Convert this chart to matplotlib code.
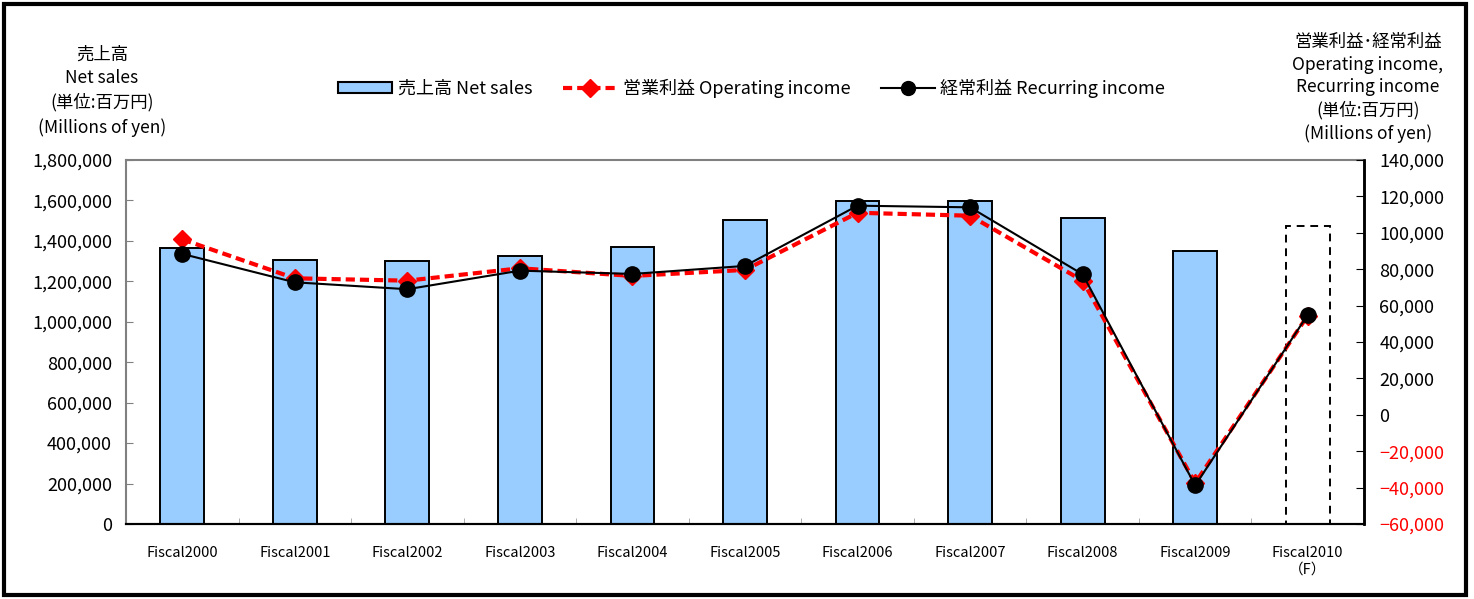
import matplotlib
matplotlib.use("Agg")
import matplotlib.pyplot as plt
from matplotlib.patches import Rectangle
from matplotlib.lines import Line2D
from matplotlib.ticker import FixedLocator, FuncFormatter

plt.rcParams['font.family'] = ['Noto Sans CJK JP', 'DejaVu Sans']

# data (millions of yen)
years = ['Fiscal2000', 'Fiscal2001', 'Fiscal2002', 'Fiscal2003', 'Fiscal2004',
         'Fiscal2005', 'Fiscal2006', 'Fiscal2007', 'Fiscal2008', 'Fiscal2009',
         'Fiscal2010\n（F）']
net_sales = [1366000, 1307000, 1302000, 1325000, 1371000, 1502000,
             1597000, 1597000, 1515000, 1352000, 1475000]
operating_income = [96400, 75000, 73700, 80500, 76300, 79600,
                    111000, 109400, 73700, -37500, 54500]
recurring_income = [88400, 72800, 69000, 79200, 77400, 81800,
                    114900, 114000, 77200, -38800, 54900]
forecast = [False] * 10 + [True]

left_ticks = list(range(0, 1800001, 200000))
right_ticks = list(range(-60000, 140001, 20000))

fig = plt.figure(figsize=(14.74, 5.99), dpi=100)
ax = fig.add_axes([126 / 1474, 75 / 599, 1238 / 1474, 364 / 599])
ax2 = ax.twinx()

x = list(range(len(years)))
for i in x:
    if forecast[i]:
        ax.bar(i, net_sales[i], width=0.39, facecolor='none', edgecolor='black',
               linestyle=(0, (4, 3)), linewidth=1.4, zorder=2)
    else:
        ax.bar(i, net_sales[i], width=0.39, color='#99CCFF', edgecolor='black',
               linewidth=1.4, zorder=2)

ax.set_xlim(-0.5, len(years) - 0.5)
ax.set_ylim(0, 1800000)
ax.set_yticks(left_ticks)
ax.yaxis.set_major_formatter(FuncFormatter(lambda v, p: f'{int(v):,}'))
ax.set_xticks(x)
ax.set_xticklabels(years, fontsize=10.5, linespacing=1.2)
ax.xaxis.set_minor_locator(FixedLocator([i + 0.5 for i in range(len(years) - 1)]))
ax.tick_params(axis='x', which='major', length=0, pad=16)
ax.tick_params(axis='x', which='minor', length=4, direction='in', color='#a0a0a0')
ax.tick_params(axis='y', direction='in', length=5, color='#808080', labelsize=13, pad=10)

for s in ['left', 'top']:
    ax.spines[s].set_color('#808080')
    ax.spines[s].set_linewidth(1.5)
ax.spines['bottom'].set_linewidth(1.5)
ax.spines['right'].set_linewidth(1.8)

ax2.plot(x, operating_income, color='#FF0000', linestyle=(0, (2.2, 1.2)), linewidth=3,
         marker='D', markersize=9, zorder=3)
ax2.plot(x, recurring_income, color='black', linewidth=1.5,
         marker='o', markersize=11, zorder=4)
ax2.set_ylim(-60000, 140000)
ax2.set_yticks(right_ticks)
ax2.yaxis.set_major_formatter(FuncFormatter(lambda v, p: f'{int(v):,}'.replace('-', '\u2212')))
ax2.tick_params(axis='y', direction='in', length=6, labelsize=13, pad=11)
for lab, v in zip(ax2.get_yticklabels(), right_ticks):
    if v < 0:
        lab.set_color('#FF0000')
for s in ['left', 'top']:
    ax2.spines[s].set_visible(False)
ax2.spines['right'].set_linewidth(1.8)
ax2.spines['bottom'].set_linewidth(1.5)

# legend
handles = [Rectangle((0, 0), 1, 1, facecolor='#99CCFF', edgecolor='black', linewidth=1.5),
           Line2D([], [], color='#FF0000', linestyle=(0, (2.2, 1.2)), linewidth=3,
                  marker='D', markersize=9),
           Line2D([], [], color='black', linewidth=1.5, marker='o', markersize=10)]
labels = ['売上高 Net sales', '営業利益 Operating income', '経常利益 Recurring income']
fig.legend(handles, labels, loc='center', bbox_to_anchor=(0.51, 0.853), ncol=3,
           frameon=False, fontsize=13, handlelength=3.0, handleheight=0.55,
           handletextpad=0.3, columnspacing=1.7)

fig.text(102 / 1474, 0.848, '売上高\nNet sales\n(単位:百万円)\n(Millions of yen)',
         ha='center', va='center', fontsize=12.5, linespacing=1.42)
fig.text(1368 / 1474, 0.853,
         '営業利益･経常利益\nOperating income,\nRecurring income\n(単位:百万円)\n(Millions of yen)',
         ha='center', va='center', fontsize=12.5, linespacing=1.32)

# outer frame
fig.patches.append(Rectangle((4 / 1474, 4 / 599), 1462 / 1474, 591 / 599,
                             transform=fig.transFigure, fill=False,
                             edgecolor='black', linewidth=3))

fig.savefig('out.png', dpi=100)
